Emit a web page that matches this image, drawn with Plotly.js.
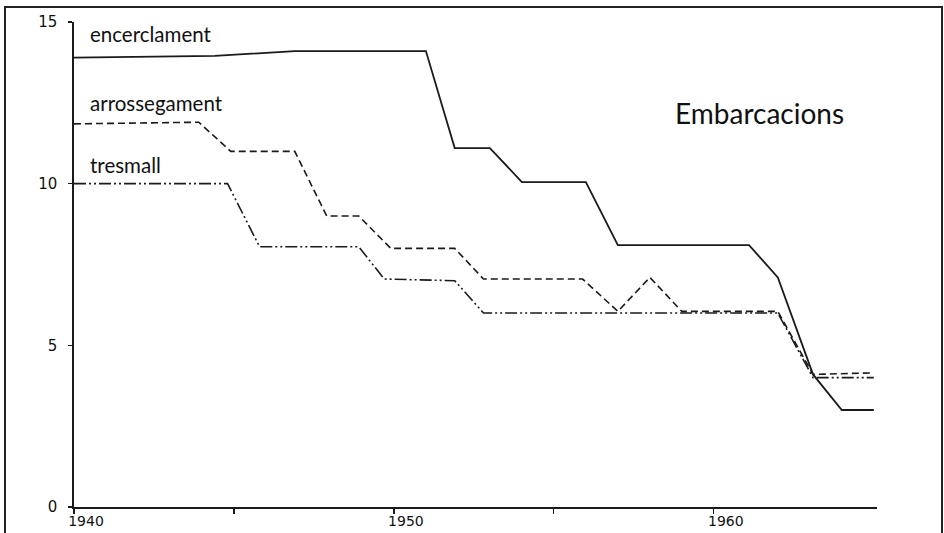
<!DOCTYPE html>
<html>
<head>
<meta charset="utf-8">
<script src="https://cdn.plot.ly/plotly-3.0.1.min.js"></script>
<style>
  html, body { margin: 0; padding: 0; background: #fff; }
  #wrap { position: relative; width: 944px; height: 533px; overflow: hidden; }
  #chart { position: absolute; left: 0; top: 0; width: 944px; height: 533px; }
  #frame { position: absolute; left: 4px; top: 6px; width: 935px; height: 560px;
           border: 2px solid #222; pointer-events: none; }
</style>
</head>
<body>
<div id="wrap">
  <div id="chart"></div>
  <div id="frame"></div>
</div>
<script>
// Series (year, number of vessels)
const encerclamentYears = [1940, 1944.4, 1946.9, 1951, 1951.9, 1953, 1954, 1956, 1957, 1961.1, 1962, 1963.1, 1964, 1965];
const encerclamentValues = [13.9, 13.95, 14.1, 14.1, 11.1, 11.1, 10.05, 10.05, 8.1, 8.1, 7.1, 4.1, 3.0, 3.0];

const arrossegamentYears = [1940, 1943.9, 1944.9, 1946.9, 1947.9, 1948.9, 1949.9, 1951.9, 1952.8, 1955.9, 1957, 1958, 1959, 1962, 1963.1, 1965];
const arrossegamentValues = [11.85, 11.9, 11.0, 11.0, 9.0, 9.0, 8.0, 8.0, 7.05, 7.05, 6.05, 7.1, 6.05, 6.05, 4.1, 4.15];

const tresmallYears = [1940, 1944.8, 1945.8, 1948.9, 1949.7, 1951.9, 1952.8, 1962, 1963.1, 1965];
const tresmallValues = [10, 10, 8.05, 8.05, 7.05, 7.0, 6.0, 6.0, 4.0, 4.0];

const seriesNames = ["encerclament", "arrossegament", "tresmall"];
const chartTitle = "Embarcacions";

const xTickVals = [1940, 1945, 1950, 1955, 1960];
const xTickText = ["1940", "", "1950", "", "1960"];
const yTickVals = [0, 5, 10, 15];
const yTickText = ["0", "5", "10", "15"];

const ink = "#1a1a1a";

const traces = [
  { x: encerclamentYears, y: encerclamentValues, name: seriesNames[0], mode: "lines",
    line: { color: ink, width: 1.8 } },
  { x: arrossegamentYears, y: arrossegamentValues, name: seriesNames[1], mode: "lines",
    line: { color: ink, width: 1.6, dash: "7px,4px" } },
  { x: tresmallYears, y: tresmallValues, name: seriesNames[2], mode: "lines",
    line: { color: ink, width: 1.6, dash: "12px,3px,2px,3px,2px,3px" } }
];

const labelFont = { family: "Lato, 'Open Sans', sans-serif", size: 20.5, color: "#111" };

const layout = {
  width: 944, height: 533,
  margin: { l: 74, r: 67, t: 22, b: 26 },
  paper_bgcolor: "#fff", plot_bgcolor: "#fff",
  showlegend: false,
  xaxis: {
    range: [1940, 1965.1], showgrid: false, zeroline: false,
    showline: true, linecolor: ink, linewidth: 1.6,
    ticks: "outside", ticklen: 5, tickcolor: ink, tickwidth: 1.2,
    tickvals: xTickVals, ticktext: xTickText,
    ticklabelshift: 12, ticklabelstandoff: -4,
    tickfont: { family: "DejaVu Sans, sans-serif", size: 14, color: "#111" }
  },
  yaxis: {
    range: [0, 15], showgrid: false, zeroline: false,
    showline: true, linecolor: ink, linewidth: 1.6,
    ticks: "outside", ticklen: 4, tickcolor: ink, tickwidth: 1.2,
    tickvals: yTickVals, ticktext: yTickText,
    ticklabelstandoff: 8,
    tickfont: { family: "DejaVu Sans, sans-serif", size: 15, color: "#111" }
  },
  annotations: [
    { text: seriesNames[0], x: 1940.44, y: 14.63, xref: "x", yref: "y",
      xanchor: "left", yanchor: "middle", showarrow: false, font: labelFont },
    { text: seriesNames[1], x: 1940.44, y: 12.5, xref: "x", yref: "y",
      xanchor: "left", yanchor: "middle", showarrow: false, font: labelFont },
    { text: seriesNames[2], x: 1940.44, y: 10.59, xref: "x", yref: "y",
      xanchor: "left", yanchor: "middle", showarrow: false, font: labelFont },
    { text: chartTitle, x: 1958.72, y: 12.2, xref: "x", yref: "y",
      xanchor: "left", yanchor: "middle", showarrow: false,
      font: { family: "Lato, 'Open Sans', sans-serif", size: 28, color: "#111" } }
  ]
};

Plotly.newPlot("chart", traces, layout, { displayModeBar: false, staticPlot: true });
</script>
</body>
</html>
